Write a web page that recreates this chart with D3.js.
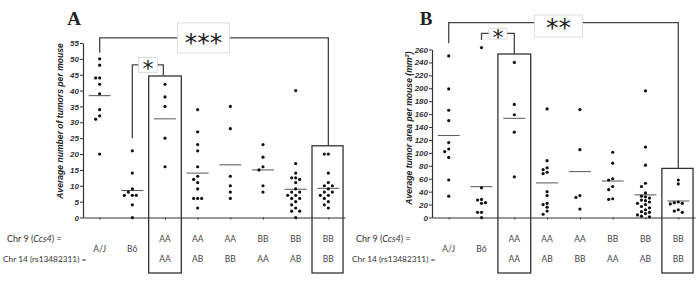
<!DOCTYPE html>
<html>
<head>
<meta charset="utf-8">
<script src="https://cdn.jsdelivr.net/npm/d3@7"></script>
<style>
  body { margin: 0; background: #fff; }
  svg { display: block; }
</style>
</head>
<body>
<script>
// Groups: parental strains, then Chr 9 / Chr 14 genotype combinations
var categories = ["A/J", "B6", "AA/AA", "AA/AB", "AA/BB", "BB/AA", "BB/AB", "BB/BB"];
var strainLabels = ["A/J", "B6", null, null, null, null, null, null];
var chr9Genotype = [null, null, "AA", "AA", "AA", "BB", "BB", "BB"];
var chr14Genotype = [null, null, "AA", "AB", "BB", "AA", "AB", "BB"];

// Panel A: average number of tumors per mouse
var tumorCount = [
    [50, 48, 44, 44, 42, 39, 34, 32, 31, 20],
    [21, 14, 9, 8, 7, 7, 7, 4, 0],
    [42, 38, 35, 25, 16],
    [34, 27, 23, 21, 16, 13, 12, 11, 9, 6, 6, 6, 3],
    [35, 28, 13, 10, 8, 6],
    [23, 19, 16, 15, 10, 8],
    [40, 17, 14, 12.5, 12.5, 12, 11, 9, 8, 8, 7, 7, 6, 6, 5, 4, 3, 2, 2, 0],
    [20, 20, 14, 11, 10, 10, 9, 8, 8, 7, 7, 6, 5, 4, 3]
];
var tumorCountMean = [38.4, 8.5, 31.1, 14.0, 16.6, 15.0, 8.9, 9.2];
var countTicks = d3.range(0, 56, 5);

// Panel B: average tumor area per mouse (mm2)
var tumorArea = [
    [250, 199, 166, 150, 116, 106, 102, 93, 58, 33],
    [263, 46, 28, 27, 23, 22, 8, 8, 0],
    [240, 175, 159, 132, 63],
    [168, 88, 77, 74, 70, 68, 40, 34, 22, 20, 16, 10, 5],
    [167, 105, 34, 31, 13],
    [101, 84, 60, 58, 48, 43, 29, 28],
    [196, 109, 81, 53, 48, 38, 33, 32, 30, 27, 26, 24, 22, 20, 17, 15, 12, 9, 8, 6, 4, 2, 1],
    [58, 52, 24, 23, 22, 21, 12, 10, 8]
];
var tumorAreaMean = [127, 47.7, 153.5, 53.5, 71, 56.5, 35, 25.5];
var areaTicks = d3.range(0, 261, 20);

var w = 700;
var h = 282;
var baseY = 217.5;      // y of the value 0
var boxBottom = 273;    // bottom of the highlight boxes
var r = 1.6;

var svg = d3.select("body")
    .append("svg")
    .attr("width", w)
    .attr("height", h);

// simple dodge so that dots with close values sit side by side
function dodge(vals, y) {
    var placed = [];
    return vals.map(function(v) {
        var py = y(v);
        var steps = [0, -4, 4, -8, 8, -12, 12];
        for (var k = 0; k < steps.length; k++) {
            var ok = placed.every(function(p) {
                var dx = p.dx - steps[k], dy = p.y - py;
                return Math.sqrt(dx * dx + dy * dy) >= 3.7;
            });
            if (ok) {
                placed.push({dx: steps[k], y: py});
                return {v: v, dx: steps[k]};
            }
        }
        placed.push({dx: 0, y: py});
        return {v: v, dx: 0};
    });
}

function drawPanel(p) {
    var g = svg.append("g");
    var x = d3.scaleLinear().domain([-0.51, 7.51]).range([p.left, p.right]);
    var y = d3.scaleLinear().domain([0, p.yMax]).range([baseY, p.yTop]);

    // panel letter
    g.append("text")
        .attr("x", p.titleX)
        .attr("y", 25)
        .attr("text-anchor", "middle")
        .attr("font-family", "Liberation Serif")
        .attr("font-weight", "bold")
        .attr("font-size", "19px")
        .attr("fill", "#222")
        .text(p.title);

    // y axis
    var yAxis = d3.axisLeft(y).tickValues(p.ticks).tickSize(3).tickSizeOuter(0).tickPadding(1);
    var ya = g.append("g")
        .attr("transform", "translate(" + p.left + ",0)")
        .call(yAxis);
    ya.select(".domain").attr("stroke", "#333").attr("stroke-width", 1.2);
    ya.selectAll(".tick line").attr("stroke", "#333");
    ya.selectAll(".tick text")
        .attr("font-family", "Liberation Sans")
        .attr("font-weight", "bold")
        .attr("font-style", "italic")
        .attr("font-size", "8px")
        .attr("fill", "#333");

    // x axis
    var xAxis = d3.axisBottom(x).tickValues(d3.range(categories.length)).tickSize(2)
        .tickSizeOuter(0).tickFormat("");
    var xa = g.append("g")
        .attr("transform", "translate(0," + baseY + ")")
        .call(xAxis);
    xa.select(".domain").attr("stroke", "#333").attr("stroke-width", 1.2);
    xa.selectAll(".tick line").attr("stroke", "#333");

    // y axis title
    var yt = g.append("text")
        .attr("transform", "translate(" + p.yLabelX + "," + p.yLabelY + ") rotate(-90)")
        .attr("text-anchor", "middle")
        .attr("dy", "0.35em")
        .attr("font-family", "Liberation Sans")
        .attr("font-weight", "bold")
        .attr("font-style", "italic")
        .attr("font-size", "8.6px")
        .attr("fill", "#222");
    yt.append("tspan").text(p.yLabel);
    if (p.yLabelSup) {
        yt.append("tspan").attr("baseline-shift", "super").attr("font-size", "6px").text(p.yLabelSup);
        yt.append("tspan").text(")");
    }

    // mean lines
    g.selectAll(".mean")
        .data(p.means)
        .enter()
        .append("line")
        .attr("x1", function(d, i) { return x(i) - 11; })
        .attr("x2", function(d, i) { return x(i) + 11; })
        .attr("y1", function(d) { return y(d); })
        .attr("y2", function(d) { return y(d); })
        .attr("stroke", "#555")
        .attr("stroke-width", 1);

    // dots
    p.values.forEach(function(vals, i) {
        g.selectAll(".dot" + i)
            .data(dodge(vals, y))
            .enter()
            .append("circle")
            .attr("cx", function(d) { return x(i) + d.dx; })
            .attr("cy", function(d) { return y(d.v); })
            .attr("r", r)
            .attr("fill", "#111");
    });

    // highlight boxes
    p.boxes.forEach(function(b) {
        g.append("rect")
            .attr("x", x(b.from))
            .attr("y", y(b.top))
            .attr("width", x(b.to) - x(b.from))
            .attr("height", boxBottom - y(b.top))
            .attr("fill", "none")
            .attr("stroke", "#333")
            .attr("stroke-width", 1.3);
    });

    // significance brackets
    p.brackets.forEach(function(b) {
        var path = d3.path();
        path.moveTo(x(b.from), y(b.leftEnd));
        path.lineTo(x(b.from), y(b.level));
        path.lineTo(x(b.to), y(b.level));
        path.lineTo(x(b.to), y(b.rightEnd));
        g.append("path")
            .attr("d", path.toString())
            .attr("fill", "none")
            .attr("stroke", "#444")
            .attr("stroke-width", 1.3);
        var cx = x(b.labelAt), cy = y(b.level) + b.boxDy;
        g.append("rect")
            .attr("x", cx - b.boxW / 2)
            .attr("y", cy - b.boxH / 2)
            .attr("width", b.boxW)
            .attr("height", b.boxH)
            .attr("fill", "#fff")
            .attr("stroke", "#d6d6d6")
            .attr("stroke-width", 0.8);
        g.append("text")
            .attr("x", cx)
            .attr("y", cy + b.textDy + 0.52 * b.fontSize)
            .attr("text-anchor", "middle")
            .attr("font-family", "DejaVu Sans")
            .attr("font-size", b.fontSize + "px")
            .attr("fill", "#222")
            .text(b.label);
    });

    // genotype labels under the axis
    var labelFont = "Lato";
    var row1 = g.append("text")
        .attr("x", p.left - 76)
        .attr("y", 241.5)
        .attr("font-family", labelFont)
        .attr("font-size", "9px")
        .attr("fill", "#333");
    row1.append("tspan").text("Chr 9 (");
    row1.append("tspan").attr("font-style", "italic").text("Ccs4");
    row1.append("tspan").text(") =");
    g.append("text")
        .attr("x", p.left - 80)
        .attr("y", 261.5)
        .attr("font-family", labelFont)
        .attr("font-size", "8.3px")
        .attr("fill", "#333")
        .text("Chr 14 (rs13482311) =");

    [[chr9Genotype, 241.5], [chr14Genotype, 261.5], [strainLabels, 252]].forEach(function(row) {
        row[0].forEach(function(d, i) {
            if (d === null) return;
            g.append("text")
                .attr("x", x(i))
                .attr("y", row[1])
                .attr("text-anchor", "middle")
                .attr("font-family", labelFont)
                .attr("font-size", "8.5px")
                .attr("fill", "#444")
                .text(d);
        });
    });
}

drawPanel({
    left: 83, right: 345, yMax: 55, yTop: 43,
    ticks: countTicks, values: tumorCount, means: tumorCountMean,
    title: "A", titleX: 74,
    yLabel: "Average number of tumors per mouse", yLabelX: 60, yLabelY: 121,
    boxes: [{from: 1.5, to: 2.5, top: 44.6}, {from: 6.5, to: 7.45, top: 22.6}],
    brackets: [
        {from: 0, to: 7, level: 56.6, leftEnd: 51.9, rightEnd: 22.6, label: "***",
         labelAt: 3.18, boxW: 52, boxH: 30, boxDy: 0, textDy: 0, fontSize: 25},
        {from: 1, to: 1.95, level: 48.1, leftEnd: 25, rightEnd: 44.6, label: "*",
         labelAt: 1.48, boxW: 19, boxH: 15, boxDy: 0, textDy: 0, fontSize: 22}
    ]
});

drawPanel({
    left: 432, right: 695, yMax: 260, yTop: 49.5,
    ticks: areaTicks, values: tumorArea, means: tumorAreaMean,
    title: "B", titleX: 426,
    yLabel: "Average tumor area per mouse (mm", yLabelSup: "2", yLabelX: 409, yLabelY: 128,
    boxes: [{from: 1.5, to: 2.5, top: 253}, {from: 6.5, to: 7.45, top: 76}],
    brackets: [
        {from: 0, to: 7, level: 301.5, leftEnd: 269.6, rightEnd: 76, label: "**",
         labelAt: 3.35, boxW: 48, boxH: 22, boxDy: 3.3, textDy: -3, fontSize: 25},
        {from: 1, to: 2, level: 285, leftEnd: 274.8, rightEnd: 253, label: "*",
         labelAt: 1.5, boxW: 18, boxH: 11, boxDy: 0.3, textDy: 0, fontSize: 22}
    ]
});
</script>
</body>
</html>
